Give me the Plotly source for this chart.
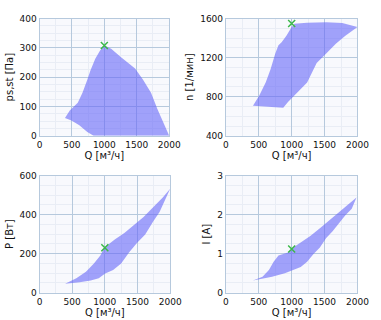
import plotly.graph_objects as go

# Operating-region outlines (Q in m3/h)
p_Q = [393, 467, 590, 663, 737, 787, 860, 934, 1000, 1105, 1253, 1376, 1474, 1597, 1720, 1818, 1916, 2000,
       2000, 835, 737, 614, 492, 393]
p_V = [61, 86, 113, 147, 191, 224, 263, 291, 308, 297, 269, 247, 230, 191, 147, 91, 41, 2,
       0, 0, 13, 36, 52, 61]

n_Q = [412, 508, 605, 678, 751, 799, 847, 920, 993, 1041, 1235, 1525, 1768, 2000,
       1816, 1671, 1525, 1380, 1235, 1065, 944, 872, 654, 412]
n_V = [707, 813, 945, 1078, 1243, 1326, 1358, 1425, 1507, 1547, 1557, 1562, 1555, 1514,
       1425, 1342, 1243, 1144, 945, 830, 747, 688, 694, 707]

P_Q = [392, 564, 711, 833, 931, 995, 1152, 1299, 1446, 1593, 1740, 1887, 2000,
       1912, 1838, 1740, 1618, 1495, 1373, 1250, 1127, 1005, 907, 784, 613, 392]
P_V = [46, 74, 107, 149, 190, 231, 273, 306, 347, 388, 438, 488, 532,
       463, 413, 364, 298, 256, 207, 149, 116, 99, 74, 63, 53, 46]

I_Q = [412, 557, 654, 726, 799, 944, 1007, 1138, 1283, 1429, 1574, 1719, 1864, 1985,
       1913, 1816, 1719, 1622, 1525, 1429, 1332, 1235, 1138, 1017, 896, 702, 557, 412]
I_V = [0.31, 0.41, 0.58, 0.79, 0.95, 1.03, 1.14, 1.28, 1.45, 1.65, 1.86, 2.07, 2.27, 2.44,
       2.15, 1.98, 1.78, 1.57, 1.40, 1.16, 0.99, 0.79, 0.66, 0.58, 0.50, 0.41, 0.36, 0.31]

# Duty point
duty_Q = 1000
duty_vals = [308, 1550, 230, 1.12]

y_titles = ["ps,st [Па]", "n [1/мин]", "P [Вт]", "I [A]"]
y_ranges = [(0, 400), (400, 1600), (0, 600), (0, 3)]
y_dticks = [100, 400, 200, 1]
x_title = "Q [м³/ч]"

W, H = 381, 320
boxes = [(38, 173, 14, 135), (232, 369, 14, 135), (38, 174, 176, 297), (232, 369, 176, 297)]

FILL = "rgba(101,101,248,0.6)"
GRID = "#b6c9dd"
MINOR = "#e9edf5"
BG = "#f8f9fd"
MARK = "#3cb84a"
FONT = dict(family="DejaVu Sans", size=9, color="#111111")

fig = go.Figure()
series = [(p_Q, p_V), (n_Q, n_V), (P_Q, P_V), (I_Q, I_V)]
for i, ((qx, vy), box) in enumerate(zip(series, boxes)):
    k = "" if i == 0 else str(i + 1)
    fig.add_trace(go.Scatter(x=qx, y=vy, mode="lines", fill="toself", fillcolor=FILL,
                             line=dict(width=0), hoverinfo="skip", showlegend=False,
                             xaxis="x" + k, yaxis="y" + k))
    fig.add_trace(go.Scatter(x=[duty_Q], y=[duty_vals[i]], mode="markers",
                             marker=dict(symbol="x-thin-open", size=7, color=MARK,
                                         line=dict(width=1.5, color=MARK)),
                             showlegend=False, xaxis="x" + k, yaxis="y" + k))
    x0, x1, yt, yb = box
    fig.layout["xaxis" + k] = dict(
        domain=[x0 / W, x1 / W], anchor="y" + k, range=[0, 2000], dtick=500, tick0=0,
        showgrid=True, gridcolor=GRID, gridwidth=1, zeroline=False,
        showline=True, linecolor=GRID, mirror=True, ticks="", tickfont=FONT,
        minor=dict(dtick=250, showgrid=True, gridcolor=MINOR, gridwidth=1),
        title=dict(text=x_title, font=dict(family="DejaVu Sans", size=10, color="#111111"), standoff=2),
        fixedrange=True)
    r0, r1 = y_ranges[i]
    fig.layout["yaxis" + k] = dict(
        domain=[1 - yb / H, 1 - yt / H], anchor="x" + k, range=[r0, r1], dtick=y_dticks[i], tick0=r0,
        showgrid=True, gridcolor=GRID, gridwidth=1, zeroline=False,
        showline=True, linecolor=GRID, mirror=True, ticks="", tickfont=FONT,
        minor=dict(dtick=y_dticks[i] / 4, showgrid=True, gridcolor=MINOR, gridwidth=1),
        title=dict(text=y_titles[i], font=dict(family="DejaVu Sans", size=10, color="#111111"), standoff=4),
        fixedrange=True)

fig.update_layout(width=W, height=H, margin=dict(l=0, r=0, t=0, b=0),
                  paper_bgcolor="white", plot_bgcolor=BG, showlegend=False)
fig.write_html("out.html")
